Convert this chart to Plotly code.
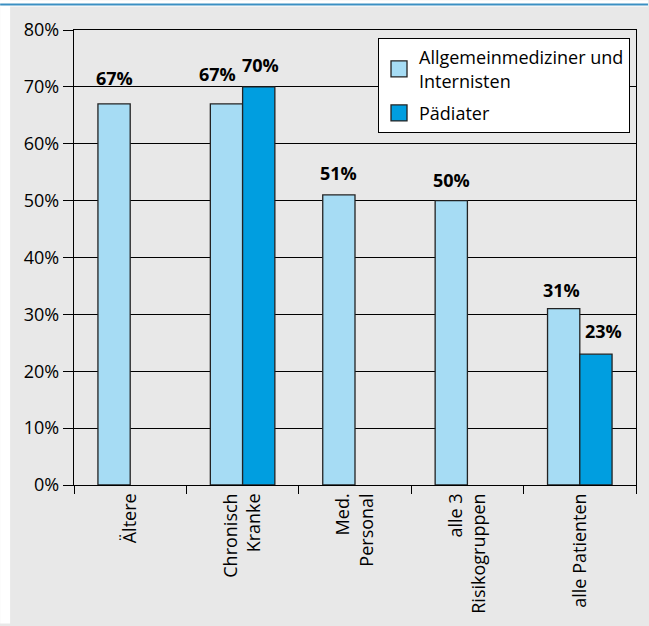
import plotly.graph_objects as go

categories = ["Ältere", "Chronisch<br>Kranke", "Med.<br>Personal", "alle 3<br>Risikogruppen", "alle Patienten"]
allgemein = [67, 67, 51, 50, 31]
paediater = [None, 70, None, None, 23]
series_names = ["Allgemeinmediziner und<br>Internisten", "Pädiater"]
y_ticks = [0, 10, 20, 30, 40, 50, 60, 70, 80]

LIGHT = "#a6dcf4"
DARK = "#009ee0"
BG = "#e8e8e8"
FONT = "Open Sans"
EDGE = "#222222"
FS = 18

# label nudges (pixels) for the value labels: (xshift adjust, yshift)
nudge_allg = [(0, 26), (-9, 30), (0, 22), (0, 21), (-2, 19)]
nudge_paed = [(0, 0), (2, 22), (0, 0), (0, 0), (8, 23)]

fig = go.Figure()
fig.add_trace(go.Bar(x=categories, y=allgemein, name=series_names[0], showlegend=False,
                     marker=dict(color=LIGHT, line=dict(color=EDGE, width=1.3))))
fig.add_trace(go.Bar(x=categories, y=paediater, name=series_names[1], showlegend=False,
                     marker=dict(color=DARK, line=dict(color=EDGE, width=1.3))))
# legend proxies with larger square swatches
for name, col, grp in [(series_names[0], LIGHT, "a"), (series_names[1], DARK, "b")]:
    fig.add_trace(go.Scatter(x=[None], y=[None], mode="markers", name=name, legendgroup=grp,
                             marker=dict(symbol="square", size=17, color=col,
                                         line=dict(color=EDGE, width=1.3))))

W, H = 649, 626
L, R, T, B = 74, 12, 30, 139
pw, ph = W - L - R, H - T - B
cat_w = pw / len(categories)
bargap = 0.426
half_bar = cat_w * (1 - bargap) / 4

annotations = []
for i, (c, v) in enumerate(zip(categories, allgemein)):
    if v is None:
        continue
    dx, dy = nudge_allg[i]
    annotations.append(dict(x=c, y=v, text=f"<b>{v}%</b>", showarrow=False,
                            xshift=-half_bar + dx, yshift=dy, yanchor="middle",
                            font=dict(size=FS, color="black", family=FONT)))
for i, (c, v) in enumerate(zip(categories, paediater)):
    if v is None:
        continue
    dx, dy = nudge_paed[i]
    annotations.append(dict(x=c, y=v, text=f"<b>{v}%</b>", showarrow=False,
                            xshift=half_bar + dx, yshift=dy, yanchor="middle",
                            font=dict(size=FS, color="black", family=FONT)))

def px_x(px):
    return (px - L) / pw

def px_y(py):
    return (H - B - py) / ph

shapes = [
    dict(type="rect", xref="paper", yref="paper", x0=px_x(0), x1=px_x(W), y0=px_y(6.5), y1=px_y(0),
         fillcolor="white", line=dict(width=0), layer="below"),
    dict(type="rect", xref="paper", yref="paper", x0=px_x(0), x1=px_x(10), y0=px_y(H), y1=px_y(0),
         fillcolor="white", line=dict(width=0), layer="below"),
    dict(type="line", xref="paper", yref="paper", x0=px_x(0), x1=px_x(W), y0=px_y(4.3), y1=px_y(4.3),
         line=dict(color="#3b8fc2", width=2)),
]

fig.update_layout(
    width=W, height=H,
    margin=dict(l=L, r=R, t=T, b=B),
    paper_bgcolor=BG, plot_bgcolor=BG,
    barmode="group", bargap=bargap, bargroupgap=0,
    font=dict(family=FONT, size=FS, color="black"),
    annotations=annotations,
    shapes=shapes,
    legend=dict(x=px_x(631), y=px_y(38), xanchor="right", yanchor="top",
                bgcolor="white", bordercolor="black", borderwidth=1,
                font=dict(size=FS, family=FONT, color="black"),
                tracegroupgap=6, itemsizing="trace"),
    xaxis=dict(showline=True, linecolor="black", linewidth=1.3, mirror=True,
               ticks="outside", tickson="boundaries", ticklen=8, tickcolor="black", tickwidth=1.3,
               tickangle=-90, tickfont=dict(size=FS, family=FONT, color="black")),
    yaxis=dict(range=[0, 80], tickvals=y_ticks, ticktext=[f"{t}%" for t in y_ticks],
               showgrid=True, gridcolor="black", gridwidth=1,
               showline=True, linecolor="black", linewidth=1.3, mirror=True,
               ticks="outside", ticklen=10, tickcolor="black", tickwidth=1.3,
               tickfont=dict(size=FS, family=FONT, color="black"), zeroline=False),
)

fig.write_html("out.html")
